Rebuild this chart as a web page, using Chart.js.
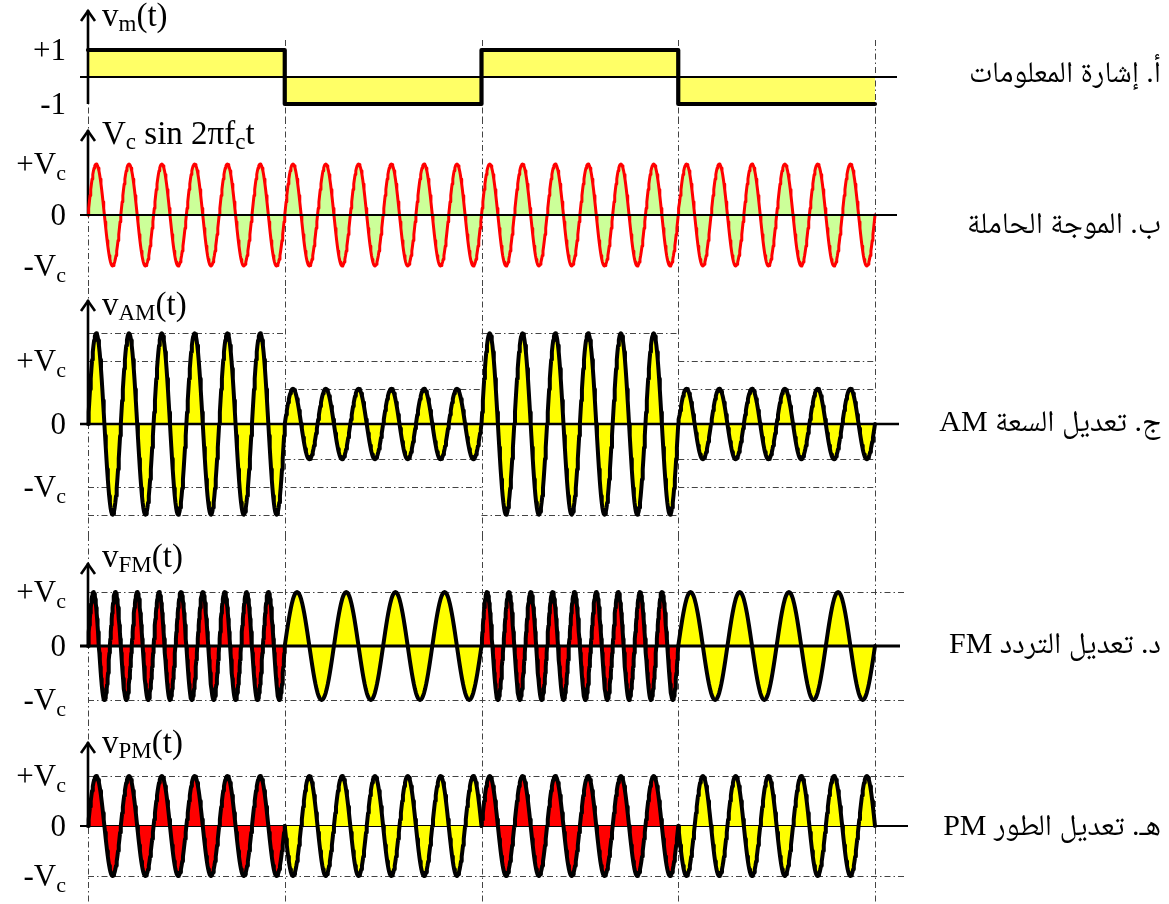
<!DOCTYPE html>
<html>
<head>
<meta charset="utf-8">
<script src="https://cdn.jsdelivr.net/npm/chart.js@4"></script>
<style>
  html, body { margin: 0; padding: 0; background: #fff; }
  #stage { position: relative; width: 1169px; height: 904px; overflow: hidden; }
  .panel { position: absolute; left: 0; width: 1169px; }
  .panel canvas { display: block; }
</style>
</head>
<body>
<div id="stage"></div>
<script>
// ---- signal description -------------------------------------------------
// information signal level in each bit interval
const messageLevels = [1, -1, 1, -1];
// interval boundaries on the time axis
const timeMarks = [0, 1, 2, 3, 4];
// carrier cycles in each interval
const carrierCycles = [6, 6, 6, 6];
// AM envelope (in units of Vc) in each interval
const amEnvelope = [1.44, 0.56, 1.44, 0.56];
// FM: carrier cycles in each interval
const fmCycles = [9, 4, 9, 4];
// PM: carrier phase offset in each interval (half turns)
const pmPhase = [0, 1, 0, 1];
// tick values and labels
const messageTickValues = [1, -1];
const messageTickText = [[['+1', 0]], [['-1', 0]]];
const signalTickValues = [1, 0, -1];
const signalTickText = [[['+V', 0], ['c', 1]], [['0', 0]], [['-V', 0], ['c', 1]]];
// panel titles ([text, isSubscript])
const panelTitles = [
  [['v', 0], ['m', 1], ['(t)', 0]],
  [['V', 0], ['c', 1], [' sin 2\u03C0', 0], ['f', 0], ['c', 1], ['t', 0]],
  [['v', 0], ['AM', 1], ['(t)', 0]],
  [['v', 0], ['FM', 1], ['(t)', 0]],
  [['v', 0], ['PM', 1], ['(t)', 0]]
];
// section names
const sectionNames = [
  'أ. إشارة المعلومات',
  'ب. الموجة الحاملة',
  'ج. تعديل السعة AM',
  'د. تعديل التردد FM',
  'هـ. تعديل الطور PM'
];

// ---- styling ------------------------------------------------------------
const LATIN = '"Liberation Serif", "Times New Roman", serif';
const ARABIC = '"Liberation Serif", "Noto Naskh Arabic", "Noto Sans Arabic", "DejaVu Sans", sans-serif';
const SAMPLES = 48;
const RED = '#FF0000', YELLOW = '#FFFF00';
const ones = [1, 1, 1, 1], zeros = [0, 0, 0, 0];

// sampled sine segments, one array per interval
function waveSegments(cycles, amps, phases) {
  return cycles.map((c, i) => {
    const pts = [];
    const n = c * SAMPLES;
    const t0 = timeMarks[i], t1 = timeMarks[i + 1];
    for (let k = 0; k <= n; k++) {
      const u = k / n;
      pts.push({ x: t0 + u * (t1 - t0), y: amps[i] * Math.sin(2 * Math.PI * c * u + phases[i] * Math.PI) });
    }
    return pts;
  });
}
const levelColor = i => messageLevels[i] > 0 ? RED : YELLOW;

function curve(data, border, fillColor, width) {
  return {
    data, borderColor: border, backgroundColor: fillColor, borderWidth: width,
    fill: 'origin', pointRadius: 0, tension: 0, clip: false,
    borderJoinStyle: 'round', borderCapStyle: 'round'
  };
}

const messagePoints = messageLevels.flatMap((v, i) => [{ x: timeMarks[i], y: v }, { x: timeMarks[i + 1], y: v }]);
const carrierPoints = waveSegments(carrierCycles, ones, zeros).flat();
const amPoints = waveSegments(carrierCycles, amEnvelope, zeros).flat();
const fmSegs = waveSegments(fmCycles, ones, zeros);
const pmSegs = waveSegments(carrierCycles, ones, pmPhase);

const guideEnd = 4.16;
const amGuides = [];
amEnvelope.forEach((a, i) => {
  amGuides.push({ y: a, from: timeMarks[i], to: timeMarks[i + 1] });
  amGuides.push({ y: -a, from: timeMarks[i], to: timeMarks[i + 1] });
});
[[0, 2], [3, 4]].forEach(([a, b]) => {
  amGuides.push({ y: 1, from: a, to: b });
  amGuides.push({ y: -1, from: a, to: b });
});
const fullGuides = [{ y: 1, from: 0, to: guideEnd }, { y: -1, from: 0, to: guideEnd }];

// ---- panel layout -------------------------------------------------------
const panels = [
  { top: 0, height: 118, zero: 77, unit: 27, tip: 10, axisBottom: -1, markTop: 40, titleBase: 26, nameDy: 5,
    zeroExt: 22, zeroWidth: 2, ticks: messageTickValues, tickText: messageTickText, guides: [],
    datasets: [curve(messagePoints, '#000', '#FFFF66', 4.2)] },
  { top: 118, height: 170, zero: 97, unit: 51, tip: 12, axisBottom: 0, markTop: 0, titleBase: 26, nameDy: 18,
    zeroExt: 22, zeroWidth: 2, ticks: signalTickValues, tickText: signalTickText, guides: [], axisBehind: true,
    datasets: [curve(carrierPoints, RED, '#CCFF99', 3)] },
  { top: 288, height: 247, zero: 136, unit: 63, tip: 12, axisBottom: 0, markTop: 0, titleBase: 27, nameDy: 7,
    zeroExt: 24, zeroWidth: 2.5, ticks: signalTickValues, tickText: signalTickText, guides: amGuides,
    datasets: [curve(amPoints, '#000', YELLOW, 4)] },
  { top: 535, height: 185, zero: 111, unit: 54, tip: 28, axisBottom: 0, markTop: 0, titleBase: 32, nameDy: 7,
    zeroExt: 25, zeroWidth: 3, ticks: signalTickValues, tickText: signalTickText, guides: fullGuides,
    datasets: fmSegs.map((s, i) => curve(s, '#000', levelColor(i), 4)) },
  { top: 720, height: 184, zero: 106, unit: 50, tip: 22, axisBottom: 0, markTop: 0, titleBase: 33, nameDy: 9,
    zeroExt: 33, zeroWidth: 2, zeroBehind: true, ticks: signalTickValues, tickText: signalTickText, guides: fullGuides,
    datasets: pmSegs.map((s, i) => curve(s, '#000', levelColor(i), 4)) }
];

// ---- drawing helpers ----------------------------------------------------
function seg(ctx, x1, y1, x2, y2) {
  ctx.beginPath(); ctx.moveTo(x1, y1); ctx.lineTo(x2, y2); ctx.stroke();
}
function runsWidth(ctx, runs, size, subSize) {
  let w = 0;
  runs.forEach(([t, s]) => { ctx.font = `${s ? subSize : size}px ${LATIN}`; w += ctx.measureText(t).width; });
  return w;
}
function drawRuns(ctx, runs, x, base, size, subSize, drop) {
  ctx.textAlign = 'left';
  ctx.textBaseline = 'alphabetic';
  runs.forEach(([t, s]) => {
    ctx.font = `${s ? subSize : size}px ${LATIN}`;
    ctx.fillText(t, x, base + (s ? drop : 0));
    x += ctx.measureText(t).width;
  });
}

function makeDecor(p, idx) {
  const drawZero = (chart) => {
    const { ctx, chartArea: ca, scales: { y } } = chart;
    const py = y.getPixelForValue(0);
    ctx.strokeStyle = '#000'; ctx.lineWidth = p.zeroWidth; ctx.setLineDash([]);
    seg(ctx, ca.left - 8, py, ca.right + p.zeroExt, py);
  };
  const drawAxis = (chart) => {
    const { ctx, chartArea: ca, scales: { y } } = chart;
    const px = ca.left;
    ctx.strokeStyle = '#000'; ctx.lineWidth = 2.6; ctx.setLineDash([]);
    ctx.lineCap = 'butt';
    seg(ctx, px, p.tip, px, y.getPixelForValue(p.axisBottom));
    ctx.lineJoin = 'miter';
    ctx.beginPath();
    ctx.moveTo(px - 7, p.tip + 11); ctx.lineTo(px, p.tip + 1); ctx.lineTo(px + 7, p.tip + 11);
    ctx.stroke();
  };
  return {
    id: 'panelDecor' + idx,
    beforeDatasetsDraw(chart) {
      const { ctx, scales: { x, y } } = chart;
      ctx.save();
      ctx.strokeStyle = '#444'; ctx.lineWidth = 1; ctx.setLineDash([6, 3, 1.5, 3]);
      timeMarks.forEach(t => {
        const px = Math.round(x.getPixelForValue(t)) + 0.5;
        seg(ctx, px, p.markTop, px, chart.height);
      });
      p.guides.forEach(g => {
        const py = Math.round(y.getPixelForValue(g.y)) + 0.5;
        seg(ctx, x.getPixelForValue(g.from), py, x.getPixelForValue(g.to), py);
      });
      ctx.setLineDash([]);
      if (p.zeroBehind) drawZero(chart);
      if (p.axisBehind) drawAxis(chart);
      ctx.restore();
    },
    afterDatasetsDraw(chart) {
      const { ctx, chartArea: ca, scales: { y } } = chart;
      ctx.save();
      if (!p.zeroBehind) drawZero(chart);
      if (!p.axisBehind) drawAxis(chart);
      ctx.fillStyle = '#000';
      // tick labels, right aligned left of the axis
      p.ticks.forEach((v, i) => {
        const runs = p.tickText[i];
        const w = runsWidth(ctx, runs, 31, 22);
        drawRuns(ctx, runs, ca.left - 22 - w, y.getPixelForValue(v) + 10, 31, 22, 6);
      });
      // panel title next to the arrow
      drawRuns(ctx, panelTitles[idx], ca.left + 14, p.titleBase, 33, 23, 5);
      // section name on the right
      ctx.font = `30px ${ARABIC}`;
      ctx.direction = 'rtl';
      ctx.textAlign = 'right';
      ctx.textBaseline = 'alphabetic';
      ctx.fillText(sectionNames[idx], chart.width - 8, y.getPixelForValue(0) + p.nameDy);
      ctx.restore();
    }
  };
}

// ---- build the five stacked charts -------------------------------------
const stage = document.getElementById('stage');
panels.forEach((p, idx) => {
  const wrap = document.createElement('div');
  wrap.className = 'panel';
  wrap.style.top = p.top + 'px';
  wrap.style.height = p.height + 'px';
  const cv = document.createElement('canvas');
  cv.width = 1169; cv.height = p.height;
  wrap.appendChild(cv);
  stage.appendChild(wrap);
  new Chart(cv, {
    type: 'line',
    data: { datasets: p.datasets },
    options: {
      responsive: false,
      animation: false,
      events: [],
      layout: { padding: { left: 88, right: 294, top: 0, bottom: 0 } },
      scales: {
        x: { type: 'linear', min: timeMarks[0], max: timeMarks[timeMarks.length - 1], display: false },
        y: { type: 'linear', display: false, min: -(p.height - p.zero) / p.unit, max: p.zero / p.unit }
      },
      plugins: { legend: { display: false }, tooltip: { enabled: false } }
    },
    plugins: [makeDecor(p, idx)]
  });
});
</script>
</body>
</html>
